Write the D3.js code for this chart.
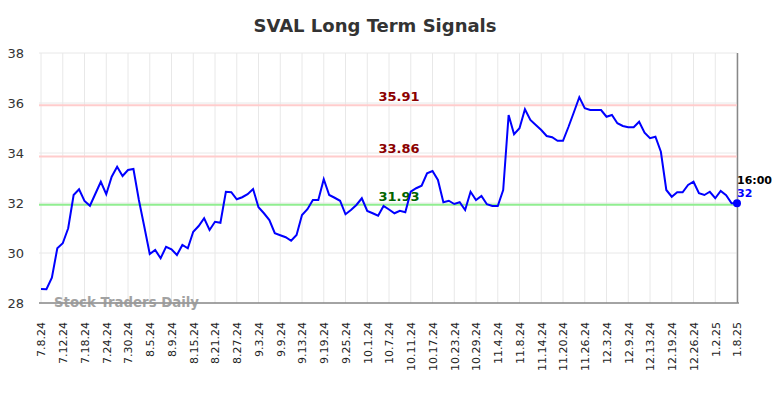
<!DOCTYPE html>
<html>
<head>
<meta charset="utf-8">
<script src="https://cdn.jsdelivr.net/npm/d3@7"></script>
<style>
  body { margin: 0; background: #fff; }
  text { font-family: "DejaVu Sans", sans-serif; }
</style>
</head>
<body>
<div id="chart"></div>
<script>
// Closing values, one per trading day (7.8.24 .. 1.8.25)
const values = [
  28.56, 28.55, 29.01, 30.19, 30.39, 30.99, 32.32, 32.55, 32.08, 31.89,
  32.37, 32.85, 32.35, 33.05, 33.45, 33.08, 33.32, 33.36, 32.12, 31.05,
  29.96, 30.12, 29.79, 30.25, 30.15, 29.92, 30.32, 30.19, 30.85, 31.08,
  31.39, 30.92, 31.25, 31.21, 32.45, 32.43, 32.15, 32.23, 32.35, 32.56,
  31.83, 31.59, 31.32, 30.79, 30.71, 30.63, 30.49, 30.72, 31.52, 31.75,
  32.12, 32.12, 32.95, 32.32, 32.21, 32.09, 31.55, 31.72, 31.92, 32.19,
  31.68, 31.59, 31.49, 31.88, 31.74, 31.59, 31.69, 31.63, 32.45, 32.59,
  32.69, 33.19, 33.28, 32.92, 32.03, 32.09, 31.96, 32.03, 31.72, 32.45,
  32.12, 32.28, 31.95, 31.88, 31.88, 32.52, 35.52, 34.75, 34.99, 35.75,
  35.32, 35.12, 34.92, 34.68, 34.63, 34.49, 34.49, 35.04, 35.63, 36.23,
  35.79, 35.72, 35.72, 35.72, 35.45, 35.52, 35.19, 35.08, 35.03, 35.03,
  35.25, 34.81, 34.59, 34.65, 34.05, 32.52, 32.25, 32.43, 32.43, 32.72,
  32.85, 32.39, 32.32, 32.45, 32.19, 32.48, 32.31, 31.99, 31.99
];

// x tick labels, one every 4 trading days
const tickLabels = [
  "7.8.24", "7.12.24", "7.18.24", "7.24.24", "7.30.24", "8.5.24", "8.9.24",
  "8.15.24", "8.21.24", "8.27.24", "9.3.24", "9.9.24", "9.13.24", "9.19.24",
  "9.25.24", "10.1.24", "10.7.24", "10.11.24", "10.17.24", "10.23.24",
  "10.29.24", "11.4.24", "11.8.24", "11.14.24", "11.20.24", "11.26.24",
  "12.3.24", "12.9.24", "12.13.24", "12.19.24", "12.26.24", "1.2.25", "1.8.25"
];
const tickStep = 4;

// signal levels
const levels = [35.91, 33.86, 31.93];
const levelKinds = ["resistance", "resistance", "support"];

const yTicks = [28, 30, 32, 34, 36, 38];
const lastLabel = "16:00";

let width = 784, height = 398;
let margin = { top: 53, bottom: 95, right: 47, left: 41 };

let svg = d3.select('#chart')
  .append('svg')
  .attr('width', width)
  .attr('height', height);

let xScale = d3.scaleLinear()
  .domain([0, values.length - 1])
  .range([margin.left, width - margin.right]);

let yScale = d3.scaleLinear()
  .domain([28, 38])
  .range([height - margin.bottom, margin.top]);

const plotLeft = margin.left - 2, plotRight = width - margin.right;

// horizontal grid
svg.append('g')
  .selectAll('line')
  .data(yTicks)
  .enter()
  .append('line')
  .attr('x1', plotLeft)
  .attr('x2', plotRight)
  .attr('y1', d => yScale(d))
  .attr('y2', d => yScale(d))
  .attr('stroke', '#e8e8e8')
  .attr('stroke-width', 1);

// vertical grid
const tickIdx = tickLabels.map((t, i) => i * tickStep);
svg.append('g')
  .selectAll('line')
  .data(tickIdx)
  .enter()
  .append('line')
  .attr('x1', d => xScale(d))
  .attr('x2', d => xScale(d))
  .attr('y1', yScale(38))
  .attr('y2', yScale(28))
  .attr('stroke', '#e8e8e8')
  .attr('stroke-width', 1);

// y axis labels
let yAxis = svg.append('g')
  .attr('transform', `translate(${plotLeft},0)`)
  .call(d3.axisLeft(yScale).tickValues(yTicks).tickSize(0).tickPadding(15));
yAxis.select('.domain').remove();
yAxis.selectAll('text')
  .attr('font-family', '"DejaVu Sans", sans-serif')
  .attr('font-size', 13)
  .attr('fill', '#333');

// x axis
let xAxis = svg.append('g')
  .attr('transform', `translate(0,${yScale(28)})`)
  .call(d3.axisBottom(xScale)
    .tickValues(tickIdx)
    .tickFormat((d, i) => tickLabels[i])
    .tickSize(0));
xAxis.select('.domain').remove();
xAxis.selectAll('text')
  .attr('font-family', '"DejaVu Sans", sans-serif')
  .attr('font-size', 11)
  .attr('fill', '#222')
  .attr('transform', 'rotate(-90)')
  .attr('x', -19)
  .attr('y', 0)
  .attr('dy', '0.35em')
  .style('text-anchor', 'end');

// bottom and right frame
svg.append('line')
  .attr('x1', plotLeft).attr('x2', plotRight + 2)
  .attr('y1', yScale(28)).attr('y2', yScale(28))
  .attr('stroke', '#555').attr('stroke-width', 1);
svg.append('line')
  .attr('x1', plotRight + 0.5).attr('x2', plotRight + 0.5)
  .attr('y1', yScale(38)).attr('y2', yScale(28))
  .attr('stroke', '#888').attr('stroke-width', 1.5);

// signal lines
levels.forEach((lv, i) => {
  const support = levelKinds[i] === 'support';
  svg.append('line')
    .attr('x1', plotLeft)
    .attr('x2', plotRight)
    .attr('y1', yScale(lv))
    .attr('y2', yScale(lv))
    .attr('stroke', support ? '#90ee90' : '#ffcccc')
    .attr('stroke-width', 2);
  svg.append('text')
    .text(lv.toFixed(2))
    .attr('x', 399)
    .attr('y', yScale(lv) - 4)
    .attr('text-anchor', 'middle')
    .attr('font-size', 13)
    .attr('font-weight', 'bold')
    .attr('fill', support ? '#006400' : '#8b0000');
});

// watermark
svg.append('text')
  .text('Stock Traders Daily')
  .attr('x', 54)
  .attr('y', 307)
  .attr('font-size', 13.3)
  .attr('font-weight', 'bold')
  .attr('fill', '#999')
  .attr('opacity', 0.9);

// price line
let line = d3.line()
  .x((d, i) => xScale(i))
  .y(d => yScale(d));

svg.append('path')
  .datum(values)
  .attr('d', line)
  .attr('fill', 'none')
  .attr('stroke', '#0000ff')
  .attr('stroke-width', 2);

// last point
const lastI = values.length - 1;
svg.append('circle')
  .attr('cx', xScale(lastI))
  .attr('cy', yScale(values[lastI]))
  .attr('r', 4)
  .attr('fill', '#0000ff');

svg.append('text')
  .text(lastLabel)
  .attr('x', xScale(lastI))
  .attr('y', yScale(values[lastI]) - 19)
  .attr('font-size', 11)
  .attr('font-weight', 'bold')
  .attr('fill', '#000');

svg.append('text')
  .text(Math.round(values[lastI]))
  .attr('x', xScale(lastI))
  .attr('y', yScale(values[lastI]) - 6)
  .attr('font-size', 11)
  .attr('font-weight', 'bold')
  .attr('fill', '#0000ff');

// title
svg.append('text')
  .text('SVAL Long Term Signals')
  .attr('x', 375)
  .attr('y', 32)
  .attr('text-anchor', 'middle')
  .attr('font-size', 18)
  .attr('font-weight', 'bold')
  .attr('fill', '#333');
</script>
</body>
</html>
